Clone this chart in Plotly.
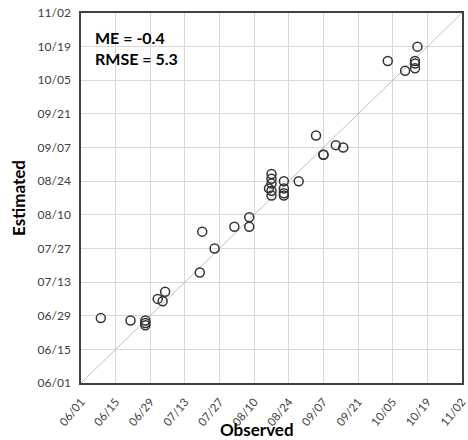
import plotly.graph_objects as go
from datetime import datetime, timedelta

observed = ["06/09","06/21","06/27","06/27","06/27","07/02","07/04","07/05","07/19","07/20",
            "07/25","08/02","08/08","08/08","08/17","08/17","08/17","08/16","08/17","08/17",
            "08/22","08/22","08/22","08/22","08/28","09/04","09/07","09/07","09/12","09/15",
            "10/03","10/10","10/14","10/14","10/14","10/15"]
estimated = ["06/28","06/27","06/27","06/26","06/25","07/06","07/05","07/09","07/17","08/03",
             "07/27","08/05","08/09","08/05","08/27","08/25","08/23","08/21","08/20","08/18",
             "08/24","08/21","08/19","08/18","08/24","09/12","09/04","09/04","09/08","09/07",
             "10/13","10/09","10/13","10/12","10/10","10/19"]
tick_labels = ["06/01","06/15","06/29","07/13","07/27","08/10","08/24","09/07","09/21","10/05","10/19","11/02"]
axis_range = ["06/01", "11/02"]
stats_text = ["ME = -0.4", "RMSE = 5.3"]

YEAR = "2021"
def d(s):
    m, dd = s.split("/")
    return f"{YEAR}-{m}-{dd}"

xs = [d(s) for s in observed]
ys = [d(s) for s in estimated]
rng = [d(s) for s in axis_range]
ticks = [d(s) for s in tick_labels]
# tiny padding so the tick at the range end is kept
pad = timedelta(minutes=10)
rng_pad = [(datetime.fromisoformat(rng[0]) - pad).isoformat(),
           (datetime.fromisoformat(rng[1]) + pad).isoformat()]

FONT = "Lato, sans-serif"

fig = go.Figure()
fig.add_trace(go.Scatter(x=rng, y=rng, mode="lines",
                         line=dict(color="#bfbfbf", width=1), hoverinfo="skip", showlegend=False))
fig.add_trace(go.Scatter(x=xs, y=ys, mode="markers",
                         marker=dict(symbol="circle-open", size=9, color="#333333",
                                     line=dict(width=1.5, color="#333333")),
                         showlegend=False))

axis_common = dict(type="date", range=rng_pad, tickvals=ticks, ticktext=tick_labels,
                   showgrid=True, gridcolor="#d9d9d9", gridwidth=1,
                   showline=True, linecolor="#404040", linewidth=1.5, mirror=True,
                   ticks="outside", tickcolor="rgba(0,0,0,0)",
                   ticklabeloverflow="allow",
                   zeroline=False, automargin=False)

fig.update_xaxes(**axis_common, tickangle=-50, ticklen=6,
                 tickfont=dict(family=FONT, size=11.5, color="#404040"))
fig.update_yaxes(**axis_common, ticklen=6,
                 tickfont=dict(family=FONT, size=12, color="#404040"),
                 title=dict(text="<b>Estimated</b>", font=dict(family=FONT, size=17, color="#000000"),
                            standoff=8))

fig.add_annotation(xref="paper", yref="paper", x=(93 - 81) / 381, y=(383 - 26) / 370,
                   xanchor="left", yanchor="top",
                   text="<b>" + "<br>".join(stats_text) + "</b>", showarrow=False, align="left",
                   font=dict(family=FONT, size=16, color="#000000"))
fig.add_annotation(xref="paper", yref="paper", x=(257 - 81) / 381, y=-(429 - 383) / 370,
                   xanchor="center", yanchor="middle", text="<b>Observed</b>", showarrow=False,
                   font=dict(family=FONT, size=17, color="#000000"))

fig.update_layout(width=468, height=440, margin=dict(l=81, r=6, t=13, b=57),
                  plot_bgcolor="white", paper_bgcolor="white")

fig.write_html("out.html", config={"displayModeBar": False},
               post_script="document.body.style.margin='0';document.body.style.overflow='hidden';")
